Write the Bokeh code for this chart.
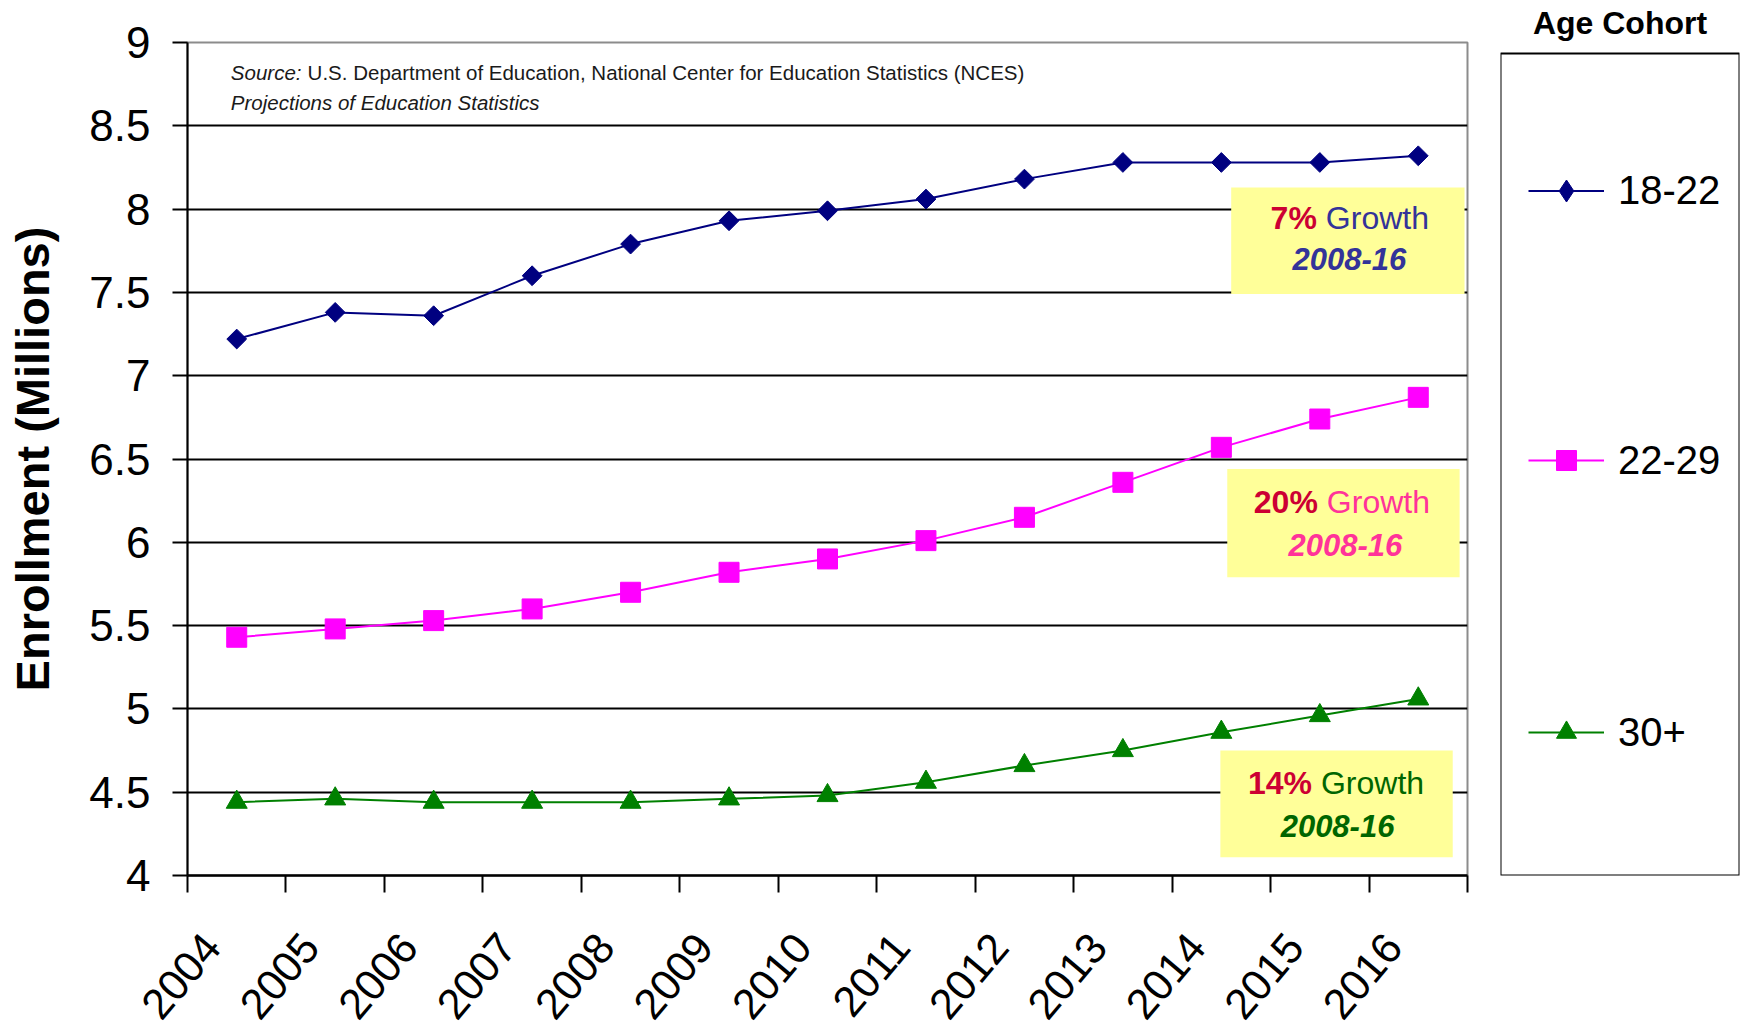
import math
from bokeh.plotting import figure
from bokeh.layouts import row
from bokeh.models import (Range1d, FixedTicker, NumeralTickFormatter, BoxAnnotation,
                          Label, Legend, LegendItem, Title)
from bokeh.embed import file_html
from bokeh.resources import INLINE

# ---------------- data ----------------
years = [2004, 2005, 2006, 2007, 2008, 2009, 2010, 2011, 2012, 2013, 2014, 2015, 2016]
cohorts = ["18-22", "22-29", "30+"]
enroll_18_22 = [7.22, 7.38, 7.36, 7.60, 7.79, 7.93, 7.99, 8.06, 8.18, 8.28, 8.28, 8.28, 8.32]
enroll_22_29 = [5.43, 5.48, 5.53, 5.60, 5.70, 5.82, 5.90, 6.01, 6.15, 6.36, 6.57, 6.74, 6.87]
enroll_30_plus = [4.44, 4.46, 4.44, 4.44, 4.44, 4.46, 4.48, 4.56, 4.66, 4.75, 4.86, 4.96, 5.06]
y_ticks = [4, 4.5, 5, 5.5, 6, 6.5, 7, 7.5, 8, 8.5, 9]

y_title = "Enrollment (Millions)"
legend_title = "Age Cohort"
source_a = "Source:"
source_b = "U.S. Department of Education, National Center for Education Statistics (NCES)"
source_c = "Projections of Education Statistics"

growth_pct = ["7%", "20%", "14%"]
growth_word = "Growth"
growth_period = "2008-16"

# annotation layout (data units)
box_left = [2014.10, 2014.06, 2013.99]
box_right = [2016.47, 2016.42, 2016.35]
box_top = [8.13, 6.44, 4.75]
box_bottom = [7.49, 5.79, 4.11]
line1_y = [7.947, 6.243, 4.556]
line2_y = [7.700, 5.986, 4.300]
split_x = [2014.97, 2014.98, 2014.92]
line2_x = [2015.30, 2015.26, 2015.18]

# styles
FONT = "Liberation Sans"
series_colors = ["#000080", "#FF00FF", "#008000"]
growth_colors = ["#333399", "#FF3399", "#006600"]
pct_color = "#CC0033"
box_color = "#FFFF99"

# ---------------- main chart ----------------
p = figure(width=1490, height=1034, x_range=Range1d(2003.5, 2016.5), y_range=Range1d(4, 9),
           tools="", toolbar_location=None, output_backend="svg",
           min_border_left=187, min_border_right=23, min_border_top=42, min_border_bottom=156)
p.background_fill_color = "white"
p.border_fill_color = "white"
p.outline_line_color = "#8c8c8c"
p.outline_line_width = 2

p.xgrid.visible = False
p.ygrid.ticker = FixedTicker(ticks=y_ticks[1:-1])
p.ygrid.grid_line_color = "black"
p.ygrid.grid_line_width = 2

# y axis
p.yaxis.ticker = FixedTicker(ticks=y_ticks)
p.yaxis.formatter = NumeralTickFormatter(format="0.[0]")
p.yaxis.axis_line_color = "black"
p.yaxis.axis_line_width = 2
p.yaxis.major_tick_out = 15
p.yaxis.major_tick_in = 0
p.yaxis.major_tick_line_width = 2
p.yaxis.major_tick_line_color = "black"
p.yaxis.minor_tick_line_color = None
p.yaxis.major_label_text_font = FONT
p.yaxis.major_label_text_font_size = "44px"
p.yaxis.major_label_text_color = "black"
p.yaxis.major_label_standoff = 22
p.yaxis.axis_label = y_title
p.yaxis.axis_label_text_font = FONT
p.yaxis.axis_label_text_font_size = "47px"
p.yaxis.axis_label_text_font_style = "bold"
p.yaxis.axis_label_text_color = "black"
p.yaxis.axis_label_standoff = 27

# x axis: labels near year centres, tick marks at category boundaries
bounds = [y - 0.5 for y in years] + [years[-1] + 0.5]
p.xaxis.ticker = FixedTicker(ticks=[y - 0.25 for y in years], minor_ticks=bounds)
p.xaxis.formatter = NumeralTickFormatter(format="0")
p.xaxis.axis_line_color = "black"
p.xaxis.axis_line_width = 2.5
p.xaxis.major_tick_out = 0
p.xaxis.major_tick_in = 0
p.xaxis.major_tick_line_color = None
p.xaxis.minor_tick_out = 17
p.xaxis.minor_tick_in = 0
p.xaxis.minor_tick_line_color = "black"
p.xaxis.minor_tick_line_width = 2
p.xaxis.major_label_orientation = 0.87
p.xaxis.major_label_text_font = FONT
p.xaxis.major_label_text_font_size = "43px"
p.xaxis.major_label_text_color = "black"
p.xaxis.major_label_standoff = 47

# series
series = [enroll_18_22, enroll_22_29, enroll_30_plus]
markers = [("square", 14, math.pi / 4), ("square", 20, 0), ("triangle", 21, 0)]
for vals, color, (mk, sz, ang) in zip(series, series_colors, markers):
    p.line(years, vals, line_color=color, line_width=2)
    p.scatter(years, vals, marker=mk, size=sz, angle=ang, fill_color=color, line_color=color)

# growth boxes
for i in range(3):
    p.add_layout(BoxAnnotation(left=box_left[i], right=box_right[i], top=box_top[i],
                               bottom=box_bottom[i], fill_color=box_color, fill_alpha=1.0,
                               line_color=None))
    p.add_layout(Label(x=split_x[i], y=line1_y[i], text=growth_pct[i], text_align="right",
                       text_baseline="middle", text_font=FONT, text_font_size="32px",
                       text_font_style="bold", text_color=pct_color))
    p.add_layout(Label(x=split_x[i], y=line1_y[i], x_offset=9, text=growth_word,
                       text_align="left", text_baseline="middle", text_font=FONT,
                       text_font_size="32px", text_color=growth_colors[i]))
    p.add_layout(Label(x=line2_x[i], y=line2_y[i], text=growth_period, text_align="center",
                       text_baseline="middle", text_font=FONT, text_font_size="31px",
                       text_font_style="bold italic", text_color=growth_colors[i]))

# source note
p.add_layout(Label(x=2003.94, y=8.818, text=source_a, text_baseline="middle",
                   text_font=FONT, text_font_size="20.5px",
                   text_font_style="italic", text_color="#1a1a1a"))
p.add_layout(Label(x=2004.72, y=8.818, text=source_b, text_baseline="middle",
                   text_font=FONT, text_font_size="20.5px", text_color="#1a1a1a"))
p.add_layout(Label(x=2003.94, y=8.638, text=source_c, text_baseline="middle",
                   text_font=FONT, text_font_size="20.5px",
                   text_font_style="italic", text_color="#1a1a1a"))

# ---------------- legend panel ----------------
q = figure(width=252, height=1034, x_range=Range1d(0, 1), y_range=Range1d(0, 1),
           tools="", toolbar_location=None, output_backend="svg",
           x_axis_type=None, y_axis_type=None,
           min_border_left=10, min_border_right=3, min_border_top=42, min_border_bottom=156)
q.title = Title(text=legend_title, align="center", text_font=FONT, text_font_size="32px",
                text_font_style="bold", text_color="black", standoff=4)
q.grid.visible = False
q.background_fill_color = "white"
q.border_fill_color = "white"
q.outline_line_color = None

# legend frame box
q.add_layout(BoxAnnotation(left=0, right=1, bottom=0, top=0.9868, fill_alpha=0,
                           line_color="black", line_alpha=1.0, line_width=2))

# legend proxies: the same series drawn in q, whose range (0..1) keeps them out of view
legend_markers = [("diamond", 55), ("square", 50), ("triangle", 50)]
legend_center = [685, 415, 143]
for name, vals, color, (mk, sz, ang), (lmk, gh), lc in zip(cohorts, series, series_colors,
                                                           markers, legend_markers, legend_center):
    r_line = q.line(years, vals, line_color=color, line_width=2)
    r_mark = q.scatter(years, vals, marker=lmk, size=sz, fill_color=color, line_color=color)
    leg = Legend(items=[LegendItem(label=name, renderers=[r_line, r_mark])],
                 location=(28, lc - gh / 2), padding=0, margin=0, spacing=0,
                 glyph_width=76, glyph_height=gh, label_height=gh, label_standoff=14,
                 label_text_font=FONT, label_text_font_size="40px",
                 label_text_color="black", background_fill_alpha=0,
                 border_line_color=None)
    q.add_layout(leg)

layout = row(p, q)
open("out.html", "w").write(file_html(layout, INLINE))
